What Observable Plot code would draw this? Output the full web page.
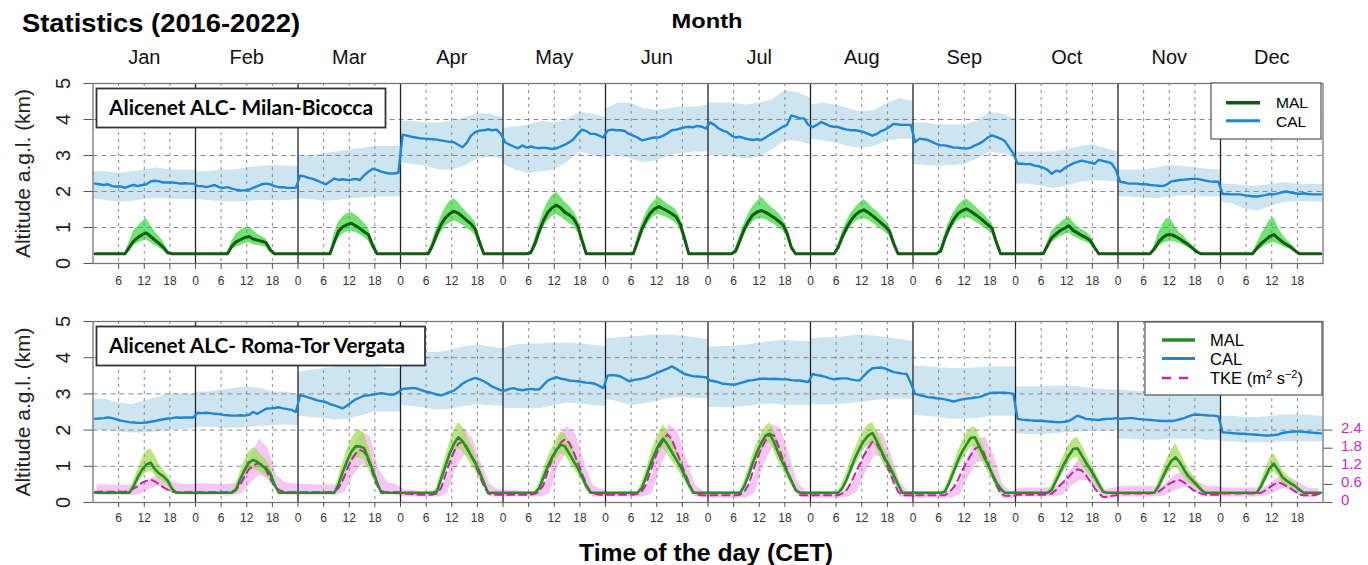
<!DOCTYPE html>
<html><head><meta charset="utf-8"><title>Statistics (2016-2022)</title>
<script src="https://cdn.jsdelivr.net/npm/d3@7"></script>
<script src="https://cdn.jsdelivr.net/npm/@observablehq/plot@0.6"></script>
<style>
html,body{margin:0;padding:0;background:#fff;}
#wrap{position:relative;width:1368px;height:565px;overflow:hidden;background:#fff;}
#top,#bottom{position:absolute;left:0;}
#top{top:40px;} #bottom{top:290px;}
#overlay{position:absolute;left:0;top:0;pointer-events:none;}
</style></head>
<body>
<div id="wrap">
<div id="top"></div>
<div id="bottom"></div>
<svg id="overlay" width="1368" height="565" font-family="Liberation Sans, Arial, sans-serif">
  <text x="22" y="31.5" font-size="25" font-weight="bold" textLength="278" lengthAdjust="spacingAndGlyphs">Statistics (2016-2022)</text>
  <text x="707" y="28" text-anchor="middle" font-size="21" font-weight="bold" textLength="71" lengthAdjust="spacingAndGlyphs">Month</text>
  <text x="706" y="561" text-anchor="middle" font-size="23" font-weight="bold" textLength="254" lengthAdjust="spacingAndGlyphs">Time of the day (CET)</text>

  <rect x="96.5" y="88.5" width="289" height="39" fill="#fff" stroke="#333" stroke-width="1.8"/>
  <text x="109" y="115" font-family="Lato, sans-serif" font-weight="bold" font-size="20" textLength="264" lengthAdjust="spacingAndGlyphs">Alicenet ALC- Milan-Bicocca</text>
  <rect x="96.5" y="326.5" width="328.5" height="39" fill="#fff" stroke="#333" stroke-width="1.8"/>
  <text x="109" y="352.5" font-family="Lato, sans-serif" font-weight="bold" font-size="20" textLength="296" lengthAdjust="spacingAndGlyphs">Alicenet ALC- Roma-Tor Vergata</text>

  <rect x="1211" y="83" width="110" height="56" fill="#fff" stroke="#555" stroke-width="1.2"/>
  <line x1="1226" x2="1260" y1="102.7" y2="102.7" stroke="#0f5a0f" stroke-width="3.5"/>
  <line x1="1226" x2="1260" y1="120.7" y2="120.7" stroke="#1f86d1" stroke-width="3"/>
  <text x="1276" y="108.3" font-size="15.5">MAL</text>
  <text x="1276" y="126.7" font-size="15.5">CAL</text>

  <rect x="1145" y="322" width="177" height="73" fill="#fff" stroke="#555" stroke-width="1.2"/>
  <line x1="1162" x2="1195" y1="340" y2="340" stroke="#2a8c2a" stroke-width="3.5"/>
  <line x1="1162" x2="1195" y1="358.5" y2="358.5" stroke="#1f86d1" stroke-width="3"/>
  <line x1="1162" x2="1195" y1="378" y2="378" stroke="#c02aa6" stroke-width="2.5" stroke-dasharray="9,8"/>
  <text x="1210" y="346" font-size="16.5">MAL</text>
  <text x="1210" y="365" font-size="16.5">CAL</text>
  <text x="1210" y="383.5" font-size="16.5">TKE (m<tspan dy="-6" font-size="11">2</tspan><tspan dy="6"> s</tspan><tspan dy="-6" font-size="11">−2</tspan><tspan dy="6">)</tspan></text>
</svg>
</div>
<script>
// ---------- labels ----------
const months = ["Jan","Feb","Mar","Apr","May","Jun","Jul","Aug","Sep","Oct","Nov","Dec"];
const hourLabels = [0, 6, 12, 18];
const altitudeTicks = [0, 1, 2, 3, 4, 5];
const tkeTicks = [0, 0.6, 1.2, 1.8, 2.4];      // right axis, m2 s-2
const tkeAxisTopKm = 2;                        // 2.4 m2 s-2 sits on the 2 km line
const malFirstHour = 6;                        // MAL arrays below cover hours 6..21
const nightMAL = 0.27;                         // flat night-time MAL (km)

// ---------- Milan-Bicocca ----------
// CAL mean, hourly (km)
const milanCAL = [
 [2.22,2.2,2.18,2.2,2.15,2.14,2.14,2.1,2.15,2.18,2.15,2.18,2.2,2.28,2.3,2.28,2.25,2.25,2.25,2.24,2.22,2.23,2.22,2.22],
 [2.15,2.15,2.12,2.15,2.18,2.12,2.1,2.12,2.08,2.05,2.03,2.03,2.05,2.1,2.15,2.2,2.22,2.2,2.15,2.12,2.12,2.1,2.1,2.1],
 [2.44,2.42,2.38,2.35,2.3,2.25,2.2,2.28,2.36,2.32,2.34,2.32,2.33,2.35,2.32,2.45,2.55,2.63,2.6,2.55,2.52,2.5,2.5,2.52],
 [3.58,3.55,3.52,3.5,3.48,3.47,3.46,3.45,3.44,3.42,3.4,3.38,3.37,3.3,3.23,3.35,3.55,3.65,3.69,3.7,3.73,3.7,3.72,3.6],
 [3.37,3.3,3.25,3.2,3.28,3.22,3.25,3.22,3.2,3.22,3.2,3.18,3.2,3.25,3.3,3.37,3.45,3.6,3.72,3.68,3.6,3.6,3.55,3.5],
 [3.69,3.72,3.7,3.7,3.68,3.6,3.55,3.5,3.42,3.45,3.48,3.5,3.5,3.55,3.62,3.7,3.72,3.75,3.78,3.8,3.78,3.82,3.8,3.75],
 [3.92,3.85,3.75,3.69,3.65,3.55,3.5,3.52,3.48,3.45,3.43,3.45,3.43,3.5,3.58,3.65,3.72,3.8,3.85,4.11,4.08,4.03,4.03,3.85],
 [3.79,3.85,3.93,3.88,3.82,3.8,3.79,3.75,3.72,3.7,3.7,3.68,3.65,3.6,3.55,3.6,3.68,3.72,3.8,3.88,3.86,3.85,3.85,3.85],
 [3.37,3.47,3.45,3.43,3.38,3.32,3.28,3.28,3.25,3.22,3.22,3.2,3.19,3.22,3.28,3.33,3.4,3.5,3.56,3.52,3.47,3.4,3.23,3.05],
 [2.77,2.77,2.76,2.76,2.72,2.7,2.66,2.6,2.49,2.58,2.55,2.65,2.72,2.78,2.82,2.86,2.83,2.8,2.77,2.88,2.85,2.82,2.78,2.6],
 [2.27,2.25,2.22,2.22,2.22,2.2,2.2,2.18,2.17,2.16,2.15,2.2,2.28,2.3,2.32,2.33,2.34,2.35,2.35,2.33,2.3,2.28,2.27,2.27],
 [1.93,1.93,1.92,1.92,1.92,1.9,1.88,1.87,1.86,1.88,1.9,1.93,1.92,1.95,1.98,2.0,1.97,1.95,1.93,1.95,1.93,1.92,1.92,1.92]
];
// CAL spread, every 3 h (0..24)
const milanCALlo = [
 [1.8,1.75,1.7,1.72,1.78,1.8,1.8,1.78,1.78],
 [1.78,1.75,1.72,1.72,1.72,1.75,1.75,1.75,1.78],
 [1.8,1.78,1.72,1.75,1.8,1.82,1.85,1.85,1.85],
 [2.8,2.75,2.7,2.6,2.6,2.7,2.9,2.95,2.9],
 [2.75,2.6,2.5,2.55,2.6,2.8,3.1,3.0,2.9],
 [3.0,3.0,2.9,2.8,2.85,3.0,3.05,3.1,3.1],
 [3.0,3.0,2.95,2.9,2.95,3.15,3.4,3.4,3.3],
 [3.45,3.4,3.35,3.25,3.2,3.25,3.4,3.45,3.45],
 [2.75,2.72,2.7,2.72,2.75,2.9,3.1,3.05,2.95],
 [2.2,2.2,2.15,2.08,2.15,2.25,2.3,2.3,2.25],
 [1.85,1.85,1.82,1.8,1.85,1.88,1.88,1.85,1.85],
 [1.7,1.65,1.5,1.45,1.6,1.7,1.72,1.72,1.7]
];
const milanCALhi = [
 [2.55,2.55,2.5,2.55,2.6,2.65,2.6,2.6,2.6],
 [2.55,2.55,2.6,2.6,2.65,2.7,2.72,2.7,2.7],
 [2.95,3.0,3.05,3.1,3.15,3.2,3.25,3.25,3.25],
 [3.95,3.95,3.9,3.9,3.95,4.05,4.15,4.15,4.05],
 [3.75,3.8,3.85,3.95,3.9,4.0,4.2,4.15,4.05],
 [4.3,4.45,4.45,4.3,4.25,4.3,4.35,4.35,4.4],
 [4.45,4.45,4.45,4.4,4.45,4.55,4.8,4.75,4.6],
 [4.4,4.45,4.4,4.3,4.2,4.25,4.45,4.58,4.5],
 [3.9,3.9,3.85,3.85,3.85,3.95,4.2,4.15,4.0],
 [3.1,3.1,3.1,3.1,3.15,3.25,3.3,3.2,3.1],
 [2.6,2.6,2.6,2.65,2.72,2.7,2.65,2.62,2.6],
 [2.2,2.2,2.15,2.15,2.2,2.25,2.2,2.2,2.2]
];
// MAL mean and spread, hourly for hours 6..21 (night = nightMAL)
const milanMAL = [
 [.27,.27,.45,.62,.72,.8,.85,.75,.65,.55,.45,.3,.27,.27,.27,.27],
 [.27,.27,.48,.6,.66,.72,.75,.68,.65,.62,.58,.38,.27,.27,.27,.27],
 [.27,.27,.6,.9,1.02,1.08,1.12,1.05,.97,.88,.8,.5,.27,.27,.27,.27],
 [.27,.5,.82,1.08,1.27,1.38,1.45,1.4,1.3,1.2,1.1,.95,.6,.27,.27,.27],
 [.3,.55,.9,1.2,1.42,1.55,1.62,1.55,1.42,1.35,1.25,1.05,.65,.27,.27,.27],
 [.27,.6,.95,1.2,1.4,1.52,1.58,1.52,1.45,1.38,1.3,1.1,.7,.27,.27,.27],
 [.35,.65,.95,1.18,1.35,1.43,1.47,1.42,1.35,1.27,1.18,1.08,.85,.45,.27,.27],
 [.45,.75,1.0,1.2,1.35,1.44,1.49,1.42,1.33,1.23,1.13,1.03,.9,.55,.27,.27],
 [.35,.7,1.0,1.22,1.38,1.47,1.52,1.45,1.37,1.28,1.18,1.08,.98,.6,.27,.27],
 [.27,.5,.72,.82,.92,.98,1.05,.92,.85,.78,.72,.64,.45,.27,.27,.27],
 [.27,.27,.4,.6,.72,.8,.8,.75,.68,.6,.52,.42,.32,.27,.27,.27],
 [.27,.27,.42,.55,.65,.75,.8,.7,.6,.52,.45,.35,.27,.27,.27,.27]
];
const milanMALhi = [
 [.27,.3,.6,.9,1.02,1.15,1.25,1.05,.88,.75,.6,.32,.27,.27,.27,.27],
 [.27,.3,.62,.82,.92,1.0,1.02,.92,.82,.75,.68,.48,.27,.27,.27,.27],
 [.27,.32,.82,1.15,1.3,1.38,1.42,1.35,1.25,1.12,.98,.62,.27,.27,.27,.27],
 [.3,.65,1.0,1.3,1.55,1.72,1.8,1.7,1.55,1.42,1.3,1.15,.75,.3,.27,.27],
 [.35,.7,1.1,1.45,1.7,1.88,1.98,1.85,1.7,1.6,1.45,1.25,.8,.3,.27,.27],
 [.3,.75,1.12,1.4,1.62,1.75,1.85,1.75,1.65,1.58,1.5,1.28,.85,.3,.27,.27],
 [.45,.8,1.12,1.38,1.58,1.72,1.85,1.72,1.6,1.5,1.4,1.25,1.0,.55,.27,.27],
 [.55,.9,1.18,1.4,1.55,1.68,1.78,1.68,1.55,1.45,1.33,1.2,1.05,.65,.27,.27],
 [.45,.85,1.18,1.42,1.6,1.72,1.8,1.7,1.6,1.48,1.38,1.25,1.12,.7,.27,.27],
 [.27,.6,.9,1.02,1.12,1.22,1.3,1.15,1.02,.95,.88,.78,.55,.27,.27,.27],
 [.27,.27,.5,.85,1.1,1.25,1.22,1.0,.85,.75,.62,.5,.38,.27,.27,.27],
 [.27,.27,.55,.8,1.0,1.2,1.28,1.0,.8,.65,.55,.42,.3,.27,.27,.27]
];
const milanMALlo = [
 [.27,.27,.32,.5,.56,.62,.65,.58,.5,.43,.35,.26,.27,.27,.27,.27],
 [.27,.27,.38,.45,.5,.55,.58,.52,.5,.48,.45,.3,.27,.27,.27,.27],
 [.27,.27,.45,.7,.82,.88,.9,.86,.8,.72,.62,.4,.27,.27,.27,.27],
 [.27,.38,.62,.86,1.03,1.12,1.18,1.14,1.07,.98,.9,.78,.47,.27,.27,.27],
 [.27,.42,.72,1.0,1.18,1.3,1.36,1.3,1.2,1.12,1.04,.86,.52,.27,.27,.27],
 [.27,.46,.78,1.02,1.2,1.32,1.36,1.32,1.27,1.2,1.12,.93,.57,.27,.27,.27],
 [.3,.5,.8,1.0,1.15,1.22,1.25,1.22,1.15,1.08,1.0,.92,.7,.37,.27,.27],
 [.36,.6,.84,1.02,1.16,1.22,1.25,1.2,1.13,1.04,.96,.87,.76,.45,.27,.27],
 [.3,.56,.84,1.04,1.18,1.25,1.28,1.24,1.16,1.09,1.0,.92,.83,.5,.27,.27],
 [.27,.4,.58,.66,.75,.8,.85,.76,.7,.64,.6,.53,.37,.27,.27,.27],
 [.27,.27,.32,.45,.55,.6,.62,.6,.55,.5,.44,.36,.28,.27,.27,.27],
 [.27,.27,.33,.42,.5,.55,.58,.54,.48,.43,.38,.3,.27,.27,.27,.27]
];

// ---------- Roma-Tor Vergata ----------
const romeCAL = [
 [2.31,2.32,2.33,2.35,2.33,2.3,2.26,2.24,2.22,2.21,2.2,2.2,2.21,2.23,2.25,2.28,2.3,2.32,2.33,2.35,2.34,2.35,2.35,2.35],
 [2.48,2.47,2.48,2.47,2.45,2.44,2.42,2.41,2.4,2.4,2.41,2.4,2.42,2.5,2.45,2.52,2.59,2.6,2.61,2.63,2.6,2.58,2.56,2.5],
 [2.97,2.94,2.9,2.86,2.82,2.8,2.77,2.72,2.68,2.64,2.6,2.68,2.77,2.85,2.9,2.95,2.96,2.98,3.0,3.02,3.0,2.98,2.98,3.05],
 [3.14,3.15,3.16,3.16,3.12,3.08,3.05,3.02,2.98,2.96,3.0,3.05,3.09,3.18,3.28,3.35,3.4,3.44,3.4,3.35,3.28,3.2,3.15,3.1],
 [3.09,3.14,3.16,3.12,3.1,3.12,3.14,3.12,3.12,3.25,3.37,3.42,3.46,3.42,3.4,3.37,3.36,3.35,3.33,3.31,3.3,3.28,3.22,3.16],
 [3.51,3.52,3.51,3.48,3.42,3.35,3.38,3.4,3.42,3.45,3.5,3.55,3.6,3.65,3.7,3.76,3.7,3.62,3.55,3.52,3.49,3.48,3.47,3.46],
 [3.37,3.35,3.32,3.28,3.27,3.26,3.26,3.3,3.33,3.37,3.38,3.4,3.42,3.42,3.41,3.42,3.41,3.4,3.4,3.38,3.37,3.37,3.35,3.33],
 [3.55,3.52,3.5,3.47,3.43,3.4,3.42,3.43,3.43,3.4,3.38,3.37,3.5,3.62,3.71,3.72,3.73,3.7,3.65,3.6,3.58,3.56,3.55,3.3],
 [3.0,2.97,2.94,2.91,2.9,2.88,2.87,2.85,2.82,2.79,2.82,2.85,2.87,2.88,2.9,2.91,2.95,3.0,3.03,3.03,3.03,3.03,3.02,3.0],
 [2.31,2.29,2.28,2.27,2.26,2.26,2.25,2.24,2.23,2.22,2.22,2.23,2.25,2.32,2.4,2.36,2.31,2.3,2.29,2.28,2.3,2.31,2.31,2.33],
 [2.31,2.32,2.33,2.33,2.31,2.3,2.29,2.28,2.27,2.26,2.25,2.25,2.25,2.27,2.3,2.33,2.38,2.42,2.43,2.42,2.41,2.4,2.4,2.38],
 [1.94,1.93,1.92,1.91,1.9,1.9,1.89,1.88,1.87,1.86,1.85,1.85,1.86,1.88,1.92,1.94,1.95,1.96,1.96,1.95,1.94,1.93,1.92,1.91]
];
const romeCALlo = [
 [1.98,1.98,1.95,1.92,1.92,1.95,2.0,2.02,2.05],
 [2.08,2.08,2.05,2.05,2.08,2.1,2.12,2.15,2.12],
 [2.38,2.35,2.32,2.28,2.3,2.4,2.5,2.5,2.5],
 [2.68,2.65,2.6,2.55,2.58,2.65,2.7,2.68,2.65],
 [2.6,2.6,2.58,2.6,2.68,2.75,2.72,2.68,2.65],
 [2.85,2.78,2.68,2.72,2.8,2.88,2.9,2.88,2.85],
 [2.63,2.62,2.62,2.65,2.7,2.72,2.68,2.68,2.68],
 [2.7,2.7,2.7,2.72,2.77,2.82,2.85,2.85,2.85],
 [2.4,2.38,2.35,2.3,2.3,2.32,2.38,2.38,2.38],
 [1.9,1.88,1.88,1.9,1.93,1.95,1.97,1.97,1.97],
 [1.75,1.75,1.72,1.72,1.75,1.75,1.75,1.72,1.72],
 [1.68,1.68,1.65,1.65,1.65,1.68,1.68,1.68,1.68]
];
const romeCALhi = [
 [2.85,2.85,2.75,2.7,2.8,2.9,3.0,3.0,3.0],
 [3.05,3.05,3.1,3.15,3.2,3.15,3.05,3.05,3.0],
 [3.6,3.65,3.7,3.75,3.8,3.8,3.75,3.7,3.7],
 [4.2,4.2,4.15,4.15,4.2,4.3,4.35,4.3,4.25],
 [4.25,4.35,4.38,4.38,4.4,4.4,4.38,4.35,4.3],
 [4.52,4.55,4.58,4.6,4.62,4.62,4.6,4.55,4.5],
 [4.3,4.3,4.32,4.35,4.4,4.45,4.48,4.45,4.45],
 [4.52,4.55,4.55,4.6,4.62,4.6,4.55,4.5,4.45],
 [3.78,3.75,3.72,3.7,3.7,3.72,3.75,3.75,3.75],
 [3.2,3.2,3.2,3.22,3.22,3.2,3.15,3.12,3.1],
 [3.1,3.08,3.05,3.05,3.08,3.1,3.12,3.1,3.1],
 [2.38,2.38,2.35,2.35,2.38,2.42,2.42,2.4,2.38]
];
const romeMAL = [
 [.27,.27,.27,.45,.7,.9,1.05,1.1,.92,.8,.72,.6,.38,.27,.27,.27],
 [.27,.27,.27,.35,.65,.9,1.1,1.18,1.12,1.02,.95,.8,.5,.27,.27,.27],
 [.27,.27,.27,.5,.85,1.15,1.4,1.55,1.55,1.5,1.2,.9,.55,.27,.27,.27],
 [.27,.27,.3,.65,1.0,1.35,1.62,1.8,1.7,1.5,1.3,1.1,.85,.55,.27,.27],
 [.27,.27,.4,.7,1.0,1.25,1.45,1.6,1.55,1.35,1.15,.95,.72,.45,.27,.27],
 [.27,.27,.4,.7,1.05,1.35,1.6,1.76,1.6,1.4,1.2,1.0,.75,.5,.27,.27],
 [.27,.27,.45,.75,1.1,1.4,1.65,1.85,1.9,1.65,1.35,1.1,.85,.6,.35,.27],
 [.27,.4,.65,.95,1.25,1.5,1.7,1.85,1.92,1.7,1.45,1.2,1.0,.75,.5,.27],
 [.27,.3,.55,.85,1.15,1.4,1.6,1.78,1.8,1.55,1.3,1.05,.8,.55,.38,.27],
 [.27,.27,.35,.6,.85,1.1,1.3,1.48,1.5,1.3,1.1,.92,.72,.5,.3,.27],
 [.27,.27,.27,.45,.7,.95,1.15,1.25,1.1,.9,.72,.6,.48,.35,.27,.27],
 [.27,.27,.27,.45,.7,.95,1.07,.9,.7,.6,.52,.45,.35,.27,.27,.27]
];
const romeMALhi = [
 [.27,.27,.3,.6,.9,1.2,1.42,1.48,1.3,1.05,.9,.75,.5,.3,.27,.27],
 [.27,.27,.3,.5,.85,1.15,1.4,1.52,1.45,1.3,1.18,1.0,.65,.3,.27,.27],
 [.27,.27,.3,.7,1.1,1.45,1.75,1.95,2.0,1.9,1.55,1.15,.7,.3,.27,.27],
 [.27,.27,.4,.85,1.25,1.65,1.95,2.2,2.1,1.85,1.6,1.35,1.05,.7,.3,.27],
 [.27,.3,.55,.9,1.25,1.5,1.75,1.95,1.9,1.7,1.45,1.2,.9,.6,.3,.27],
 [.27,.3,.55,.9,1.3,1.65,1.9,2.15,2.0,1.75,1.5,1.25,.95,.65,.3,.27],
 [.27,.3,.6,.95,1.35,1.65,1.9,2.1,2.2,2.0,1.65,1.35,1.05,.75,.45,.27],
 [.3,.55,.85,1.2,1.5,1.78,2.0,2.15,2.2,2.0,1.75,1.45,1.22,.95,.65,.3],
 [.27,.4,.7,1.05,1.4,1.68,1.9,2.05,2.1,1.85,1.55,1.28,1.0,.7,.48,.3],
 [.27,.3,.48,.78,1.08,1.35,1.58,1.75,1.8,1.6,1.35,1.12,.9,.65,.38,.27],
 [.27,.27,.3,.6,.92,1.2,1.45,1.62,1.4,1.15,.92,.75,.6,.45,.3,.27],
 [.27,.27,.3,.6,.9,1.2,1.35,1.15,.9,.75,.65,.55,.42,.3,.27,.27]
];
const romeMALlo = [
 [.27,.27,.27,.35,.52,.7,.82,.88,.75,.63,.56,.46,.3,.27,.27,.27],
 [.27,.27,.27,.3,.5,.7,.85,.92,.88,.8,.74,.62,.4,.27,.27,.27],
 [.27,.27,.27,.38,.65,.9,1.1,1.22,1.22,1.18,.92,.68,.42,.27,.27,.27],
 [.27,.27,.27,.5,.8,1.1,1.35,1.5,1.42,1.25,1.05,.88,.68,.42,.27,.27],
 [.27,.27,.32,.55,.8,1.02,1.2,1.35,1.3,1.12,.95,.78,.58,.35,.27,.27],
 [.27,.27,.32,.55,.85,1.1,1.35,1.5,1.35,1.15,.98,.8,.6,.4,.27,.27],
 [.27,.27,.35,.6,.9,1.15,1.4,1.6,1.65,1.4,1.12,.9,.68,.48,.3,.27],
 [.27,.32,.5,.75,1.02,1.25,1.45,1.6,1.65,1.45,1.2,.98,.8,.58,.38,.27],
 [.27,.27,.42,.68,.95,1.15,1.35,1.52,1.55,1.3,1.08,.85,.65,.43,.3,.27],
 [.27,.27,.3,.48,.68,.9,1.08,1.22,1.25,1.05,.88,.74,.56,.38,.27,.27],
 [.27,.27,.27,.35,.55,.75,.9,.98,.85,.7,.56,.47,.38,.3,.27,.27],
 [.27,.27,.27,.35,.55,.75,.85,.72,.55,.47,.42,.36,.3,.27,.27,.27]
];
// TKE (m2 s-2): mean hourly, spread every 2 h
const romeTKE = [
 [.36,.36,.36,.36,.36,.36,.36,.36,.38,.46,.54,.66,.72,.76,.7,.6,.5,.42,.36,.34,.34,.34,.34,.34],
 [.34,.34,.34,.34,.34,.34,.34,.34,.36,.42,.6,.86,1.1,1.22,1.3,1.26,1.08,.78,.54,.42,.36,.34,.34,.34],
 [.34,.34,.34,.34,.34,.34,.34,.34,.36,.48,.74,1.1,1.42,1.62,1.74,1.68,1.38,.96,.58,.38,.34,.34,.34,.34],
 [.3,.29,.28,.26,.26,.26,.26,.26,.3,.48,.9,1.32,1.68,1.94,2.02,1.86,1.56,1.26,.9,.54,.3,.26,.26,.26],
 [.26,.26,.26,.26,.26,.26,.26,.29,.36,.6,1.02,1.44,1.74,1.98,2.1,1.98,1.68,1.32,.96,.6,.36,.29,.26,.26],
 [.26,.26,.26,.26,.26,.26,.26,.29,.36,.6,1.02,1.44,1.8,2.06,2.26,2.1,1.74,1.38,1.02,.66,.36,.26,.24,.24],
 [.24,.24,.24,.24,.24,.24,.24,.26,.36,.6,1.02,1.44,1.8,2.06,2.26,2.22,1.86,1.44,1.08,.72,.42,.24,.24,.24],
 [.24,.24,.24,.24,.24,.24,.24,.3,.42,.66,.96,1.26,1.56,1.8,2.02,1.94,1.68,1.38,1.02,.66,.36,.24,.24,.24],
 [.24,.24,.24,.24,.24,.24,.24,.24,.34,.5,.74,1.06,1.32,1.56,1.78,1.86,1.68,1.32,.94,.58,.3,.22,.22,.22],
 [.26,.26,.26,.26,.26,.26,.26,.26,.3,.42,.58,.72,.86,1.01,1.1,1.06,.9,.7,.48,.3,.18,.18,.22,.24],
 [.3,.3,.3,.3,.3,.3,.3,.3,.32,.36,.46,.58,.66,.72,.74,.66,.54,.42,.34,.3,.26,.26,.26,.26],
 [.3,.3,.3,.3,.3,.3,.3,.3,.3,.32,.4,.5,.6,.66,.62,.54,.46,.36,.26,.24,.24,.24,.26,.3]
];
const romeTKEhi = [
 [.58,.58,.56,.56,.58,.6,.72,.9,.84,.66,.6,.6],
 [.62,.62,.6,.6,.62,.84,1.56,2.1,1.8,.9,.66,.62],
 [.6,.6,.58,.58,.6,.9,1.86,2.34,2.16,1.08,.66,.6],
 [.42,.4,.36,.36,.42,.84,2.04,2.46,2.1,1.26,.6,.42],
 [.4,.4,.36,.36,.42,.9,2.1,2.52,2.28,1.38,.6,.42],
 [.36,.36,.36,.36,.4,.9,2.16,2.58,2.34,1.44,.6,.36],
 [.36,.36,.36,.36,.4,.9,2.1,2.58,2.46,1.62,.66,.36],
 [.36,.36,.36,.36,.42,.9,1.8,2.34,2.28,1.56,.66,.36],
 [.36,.36,.36,.36,.36,.72,1.56,2.1,2.16,1.56,.6,.36],
 [.48,.48,.48,.48,.48,.66,1.08,1.44,1.38,.9,.42,.48],
 [.54,.54,.54,.54,.54,.6,.86,1.02,.94,.66,.54,.54],
 [.48,.48,.48,.48,.48,.54,.78,.9,.78,.6,.46,.46]
];
const romeTKElo = [
 [.24,.24,.24,.24,.24,.26,.42,.54,.48,.3,.26,.24],
 [.24,.24,.24,.24,.24,.3,.66,.9,.78,.42,.26,.24],
 [.24,.24,.24,.24,.24,.34,.9,1.26,1.14,.48,.26,.24],
 [.18,.18,.18,.18,.18,.3,1.14,1.56,1.38,.66,.18,.18],
 [.18,.18,.18,.18,.18,.3,1.2,1.68,1.5,.72,.18,.18],
 [.18,.18,.18,.18,.18,.3,1.2,1.8,1.56,.78,.18,.14],
 [.14,.14,.14,.14,.14,.3,1.2,1.8,1.68,.84,.22,.14],
 [.14,.14,.14,.14,.18,.36,1.02,1.56,1.5,.84,.18,.14],
 [.14,.14,.14,.14,.14,.26,.84,1.32,1.38,.84,.14,.12],
 [.18,.18,.18,.18,.18,.24,.54,.72,.72,.42,.1,.14],
 [.18,.18,.18,.18,.18,.22,.36,.5,.46,.24,.18,.18],
 [.18,.18,.18,.18,.18,.22,.36,.46,.36,.18,.14,.18]
];

// ---------- helpers ----------
const tkeToKm = tkeAxisTopKm / tkeTicks[tkeTicks.length - 1];
function series(arr, step, offset) {
  return arr.flatMap((vals, m) => vals.map((v, k) => ({x: m * 24 + k * step + offset, v})));
}
function bandRows(lo, hi, step, offset) {
  return lo.flatMap((vals, m) => vals.map((v, k) => ({x: m * 24 + k * step + offset, lo: v, hi: hi[m][k]})));
}
function fullDay(day) {
  return day.map(vals => d3.range(24).map(h =>
    (h >= malFirstHour && h < malFirstHour + vals.length) ? vals[h - malFirstHour] : nightMAL));
}
const allHourTicks = d3.range(12).flatMap(m => hourLabels.map(h => m * 24 + h)).filter(d => d > 0);
const gridHours = allHourTicks.filter(d => d % 24 !== 0);
const monthStarts = d3.range(1, 12).map(m => m * 24);
const monthCenters = d3.range(12).map(m => m * 24 + 12);
const FONT = "Liberation Sans, Arial, sans-serif";

function panel(p) {
  const marks = [];
  marks.push(Plot.areaY(bandRows(p.calLo, p.calHi, 3, 0), {x: "x", y1: "lo", y2: "hi", fill: "#cde5f0"}));
  if (p.tke) {
    marks.push(Plot.areaY(bandRows(p.tkeLo, p.tkeHi, 2, 1),
      {x: "x", y1: d => d.lo * tkeToKm, y2: d => d.hi * tkeToKm, fill: "#f2aef0", fillOpacity: 0.7}));
  }
  marks.push(Plot.areaY(bandRows(fullDay(p.malLo), fullDay(p.malHi), 1, 0.5),
    {x: "x", y1: "lo", y2: "hi", fill: p.malBand, fillOpacity: p.malBandOpacity}));
  marks.push(Plot.ruleY([1, 2, 3, 4], {stroke: "#8a8a8a", strokeWidth: 1, strokeDasharray: "5,4"}));
  marks.push(Plot.ruleX(gridHours, {stroke: "#8a8a8a", strokeWidth: 1, strokeDasharray: "3,4"}));
  marks.push(Plot.ruleX(monthStarts, {stroke: "#222", strokeWidth: 1.3}));
  marks.push(Plot.lineY(series(p.cal, 1, 0.5), {x: "x", y: "v", stroke: "#1f86d1", strokeWidth: 2.4}));
  if (p.tke) {
    marks.push(Plot.lineY(series(p.tke, 1, 0.5),
      {x: "x", y: d => d.v * tkeToKm, stroke: "#bb2aa0", strokeWidth: 2, strokeDasharray: "7,5"}));
  }
  marks.push(Plot.lineY(series(fullDay(p.mal), 1, 0.5), {x: "x", y: "v", stroke: p.malColor, strokeWidth: p.malWidth}));
  marks.push(Plot.frame({stroke: "#777", strokeWidth: 1.3}));
  // axes
  marks.push(Plot.axisX(allHourTicks, {anchor: "bottom", tickSize: p.hourTick, tickPadding: p.hourPad, fontSize: 12,
    tickFormat: d => String(d % 24), stroke: "#555", fill: "#333", label: null}));
  if (p.showMonths) {
    marks.push(Plot.axisX(monthCenters, {anchor: "top", tickSize: 0, tickPadding: 20, fontSize: 20,
      tickFormat: d => months[(d - 12) / 24], fill: "#111", label: null}));
  }
  marks.push(Plot.axisY(altitudeTicks, {anchor: "left", tickSize: 9, tickFormat: () => "", stroke: "#555", label: null}));
  marks.push(Plot.text(altitudeTicks, {frameAnchor: "left", y: d => d, text: d => String(d), rotate: -90,
    dx: -29, fontSize: 20, textAnchor: "middle", lineAnchor: "middle", fill: "#222"}));
  marks.push(Plot.text(["Altitude a.g.l. (km)"], {frameAnchor: "left", rotate: -90, dx: -70, fontSize: 21,
    textAnchor: "middle", lineAnchor: "middle", fill: "#222"}));
  if (p.tke) {
    marks.push(Plot.axisY(tkeTicks.map(t => t * tkeToKm), {anchor: "right", tickSize: 9, tickFormat: () => "", stroke: "#555", label: null}));
    marks.push(Plot.text(tkeTicks, {frameAnchor: "right", y: t => t * tkeToKm, text: t => t === 0 ? "0" : t.toFixed(1),
      dx: 18, dy: -2, textAnchor: "start", lineAnchor: "middle", fontSize: 15, fill: "#c530c0"}));
  }
  return Plot.plot({
    width: 1368, height: p.height,
    marginLeft: 92.5, marginRight: 45.5, marginTop: p.marginTop, marginBottom: p.marginBottom,
    x: {domain: [0, 288], label: null},
    y: {domain: [0, 5], label: null},
    style: {fontFamily: FONT, background: "transparent", overflow: "visible"},
    marks
  });
}

document.getElementById("top").append(panel({
  height: 250, marginTop: 43, marginBottom: 27, showMonths: true, hourTick: 6, hourPad: 6.5,
  cal: milanCAL, calLo: milanCALlo, calHi: milanCALhi,
  mal: milanMAL, malLo: milanMALlo, malHi: milanMALhi,
  malColor: "#115c11", malWidth: 3, malBand: "#72e272", malBandOpacity: 1
}));
document.getElementById("bottom").append(panel({
  height: 237, marginTop: 31, marginBottom: 25, showMonths: false, hourTick: 5, hourPad: 5.5,
  cal: romeCAL, calLo: romeCALlo, calHi: romeCALhi,
  mal: romeMAL, malLo: romeMALlo, malHi: romeMALhi,
  tke: romeTKE, tkeLo: romeTKElo, tkeHi: romeTKEhi,
  malColor: "#2a8c2a", malWidth: 2.6, malBand: "#a2de5a", malBandOpacity: 0.75
}));
</script>
</body></html>
